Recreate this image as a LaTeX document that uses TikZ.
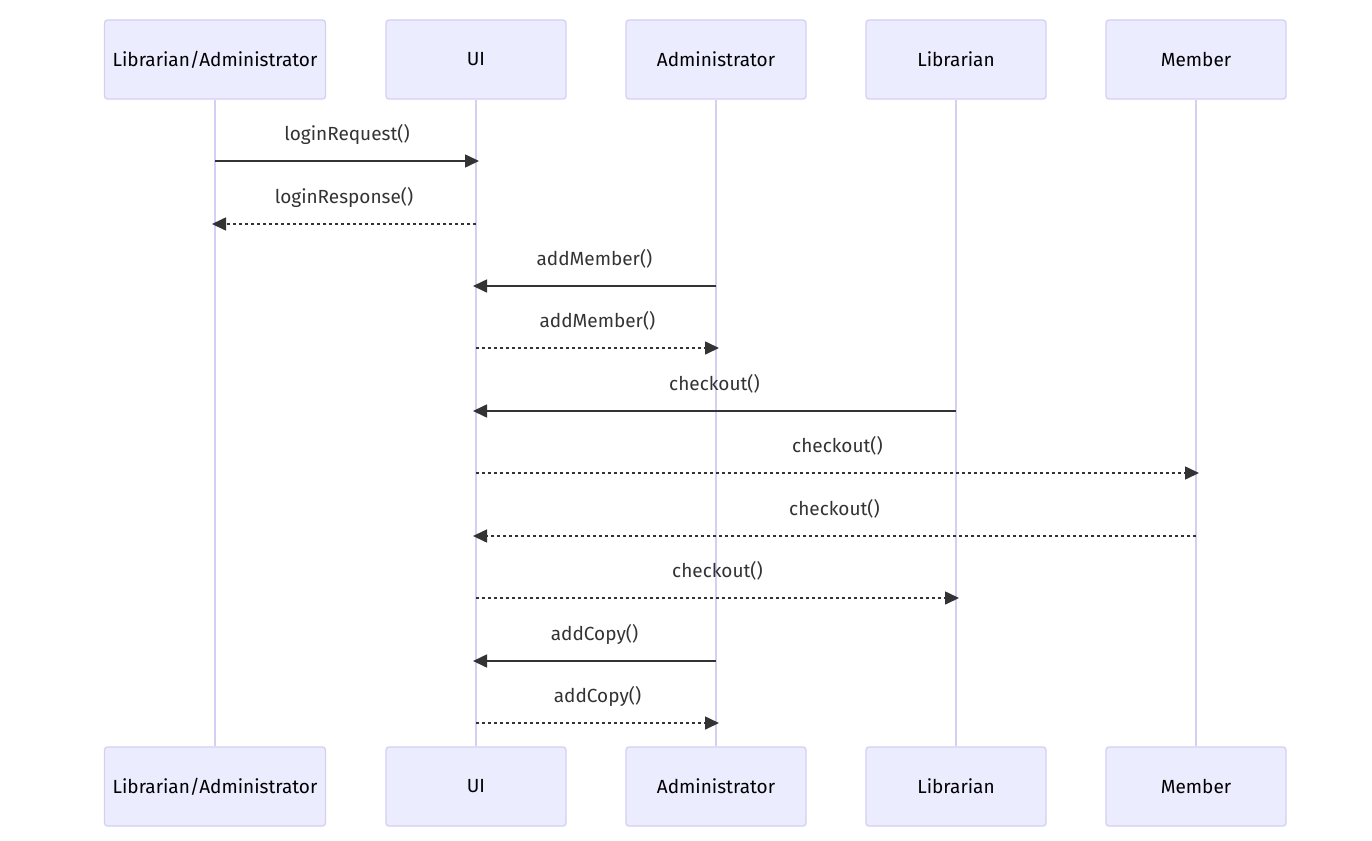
\documentclass[tikz,border=0pt]{standalone}
\usepackage{fontspec}
\setmainfont{Fira Sans}
\usetikzlibrary{arrows.meta}
\definecolor{actfill}{HTML}{ECECFF}
\definecolor{actline}{HTML}{D6CEF3}
\definecolor{msgcol}{HTML}{333333}
\tikzset{
  x=1pt, y=-1pt,
  actor/.style={draw=actline, line width=1.3pt, fill=actfill, rounded corners=3pt,
    minimum width=180pt, minimum height=79pt, inner sep=0pt,
    font=\fontsize{19}{22}\selectfont, text=black},
  lifeline/.style={draw=actline, line width=2.4pt},
  msg/.style={draw=msgcol, line width=1.6pt, -{Triangle[length=14pt,width=13pt]}},
  reply/.style={msg, dash pattern=on 3pt off 3pt},
  lbl/.style={font=\fontsize{19}{22}\selectfont, text=msgcol, inner sep=0pt}
}
\begin{document}
\begin{tikzpicture}
\useasboundingbox (0,0) rectangle (1372,840);
\node[actor, minimum width=221pt] (t1) at (215,59.5) {Librarian/Administrator};
\node[actor] (t2) at (476,59.5) {UI};
\node[actor] (t3) at (716,59.5) {Administrator};
\node[actor] (t4) at (956,59.5) {Librarian};
\node[actor] (t5) at (1196,59.5) {Member};
\node[actor, minimum width=221pt] (b1) at (215,786.5) {Librarian/Administrator};
\node[actor] (b2) at (476,786.5) {UI};
\node[actor] (b3) at (716,786.5) {Administrator};
\node[actor] (b4) at (956,786.5) {Librarian};
\node[actor] (b5) at (1196,786.5) {Member};
\foreach \i in {1,...,5} {
  \draw[lifeline] (t\i.south) -- (b\i.north);
}
% message rows
\foreach \n/\y in {1/161,2/224,3/286,4/348,5/411,6/473,7/536,8/598,9/661,10/723} {
  \coordinate (r\n) at (0,\y);
}
\draw[msg] (t1 |- r1) -- ([xshift=3pt]t2 |- r1) node[lbl, midway, yshift=27pt] {loginRequest()};
\draw[reply] (t2 |- r2) -- ([xshift=-3pt]t1 |- r2) node[lbl, midway, yshift=27pt] {loginResponse()};
\draw[msg] (t3 |- r3) -- ([xshift=-3pt]t2 |- r3) node[lbl, midway, yshift=27pt] {addMember()};
\draw[reply] (t2 |- r4) -- ([xshift=3pt]t3 |- r4) node[lbl, midway, yshift=27pt] {addMember()};
\draw[msg] (t4 |- r5) -- ([xshift=-3pt]t2 |- r5) node[lbl, midway, yshift=27pt] {checkout()};
\draw[reply] (t2 |- r6) -- ([xshift=3pt]t5 |- r6) node[lbl, midway, yshift=27pt] {checkout()};
\draw[reply] (t5 |- r7) -- ([xshift=-3pt]t2 |- r7) node[lbl, midway, yshift=27pt] {checkout()};
\draw[reply] (t2 |- r8) -- ([xshift=3pt]t4 |- r8) node[lbl, midway, yshift=27pt] {checkout()};
\draw[msg] (t3 |- r9) -- ([xshift=-3pt]t2 |- r9) node[lbl, midway, yshift=27pt] {addCopy()};
\draw[reply] (t2 |- r10) -- ([xshift=3pt]t3 |- r10) node[lbl, midway, yshift=27pt] {addCopy()};
\end{tikzpicture}
\end{document}
